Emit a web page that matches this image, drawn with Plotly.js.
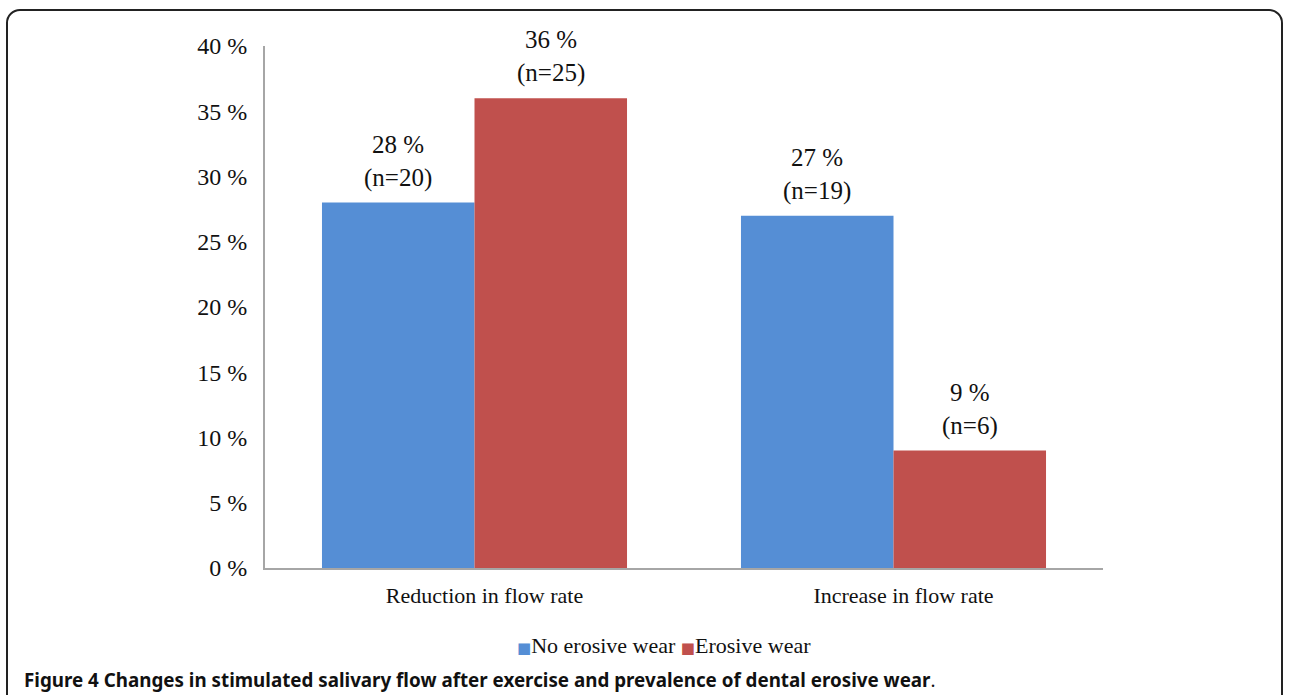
<!DOCTYPE html>
<html>
<head>
<meta charset="utf-8">
<script src="https://cdn.plot.ly/plotly-3.0.1.min.js"></script>
<style>
  html, body { margin: 0; padding: 0; background: #fff; width: 1289px; height: 695px; overflow: hidden; }
  #frame { position: absolute; left: 6px; top: 9px; width: 1277px; height: 720px; border: 2px solid #222; border-radius: 14px; box-sizing: border-box; pointer-events: none; }
  #chart { position: absolute; left: 0; top: 0; width: 1289px; height: 695px; }
</style>
</head>
<body>
<div id="chart"></div>
<div id="frame"></div>
<script>
const categories = ["Reduction in flow rate", "Increase in flow rate"];
const seriesNames = ["No erosive wear", "Erosive wear"];
const seriesColors = ["#558ed5", "#c0504d"];
const noErosiveWear = [28, 27];
const erosiveWear = [36, 9];
const noErosiveN = [20, 19];
const erosiveN = [25, 6];
const yTicks = [0, 5, 10, 15, 20, 25, 30, 35, 40];
const captionBold = "Figure 4 Changes in stimulated salivary flow after exercise and prevalence of dental erosive wear";

const serif = "Liberation Serif, Times New Roman, serif";
const W = 1289, H = 695;
const M = { l: 264.5, r: 186, t: 46, b: 127 };
const bargap = 0.272;
const plotH = H - M.t - M.b;

const seriesVals = [noErosiveWear, erosiveWear];
const seriesN = [noErosiveN, erosiveN];

const traces = seriesVals.map((vals, s) => ({
  type: "bar", name: seriesNames[s], x: categories, y: vals,
  marker: { color: seriesColors[s] }, hoverinfo: "none", showlegend: false
}));

// offset of each bar centre from its category centre, derived from plot width and bargap
const catWidthPx = (W - M.l - M.r) / categories.length;
const barWidthPx = catWidthPx * (1 - bargap) / seriesVals.length;

const annotations = [];
seriesVals.forEach((vals, s) => {
  vals.forEach((v, i) => {
    annotations.push({
      x: categories[i], y: v, xref: "x", yref: "y",
      xshift: (s - (seriesVals.length - 1) / 2) * barWidthPx,
      yanchor: "bottom", yshift: 9, showarrow: false,
      text: v + " %<br>(n=" + seriesN[s][i] + ")",
      font: { family: serif, size: 25, color: "#111" }
    });
  });
});

// legend line
annotations.push({
  xref: "paper", yref: "paper", x: 0.4758, y: -(645 - (H - M.b)) / plotH,
  xanchor: "center", yanchor: "middle", showarrow: false,
  text: seriesNames.map((n, s) => '<span style="color:' + seriesColors[s] + ';font-family:DejaVu Sans;font-size:15px">■</span>' + n).join("&nbsp;"),
  font: { family: serif, size: 22, color: "#111" }
});

// caption
annotations.push({
  xref: "paper", yref: "paper", x: (21 - M.l) / (W - M.l - M.r), y: -(680 - (H - M.b)) / plotH,
  xanchor: "left", yanchor: "middle", showarrow: false,
  text: "<b>" + captionBold + "</b>.",
  font: { family: "Noto Sans, Open Sans, sans-serif", size: 18.8, color: "#111" }
});

const layout = {
  width: W, height: H,
  margin: M,
  paper_bgcolor: "rgba(0,0,0,0)", plot_bgcolor: "rgba(0,0,0,0)",
  barmode: "group", bargap: bargap, bargroupgap: 0,
  showlegend: false,
  xaxis: {
    showline: true, linecolor: "#a6a6a6", linewidth: 2,
    ticks: "", showgrid: false, zeroline: false,
    tickfont: { family: serif, size: 22, color: "#111" },
    ticklabelstandoff: 7, ticklabelshift: 10
  },
  yaxis: {
    range: [0, 40], tickvals: yTicks, ticktext: yTicks.map(v => v + " %"),
    showline: true, linecolor: "#a6a6a6", linewidth: 2,
    ticks: "", showgrid: false, zeroline: false,
    tickfont: { family: serif, size: 24, color: "#111" },
    ticklabelstandoff: 11
  },
  annotations: annotations
};

Plotly.newPlot("chart", traces, layout, { displayModeBar: false, staticPlot: true });
</script>
</body>
</html>
